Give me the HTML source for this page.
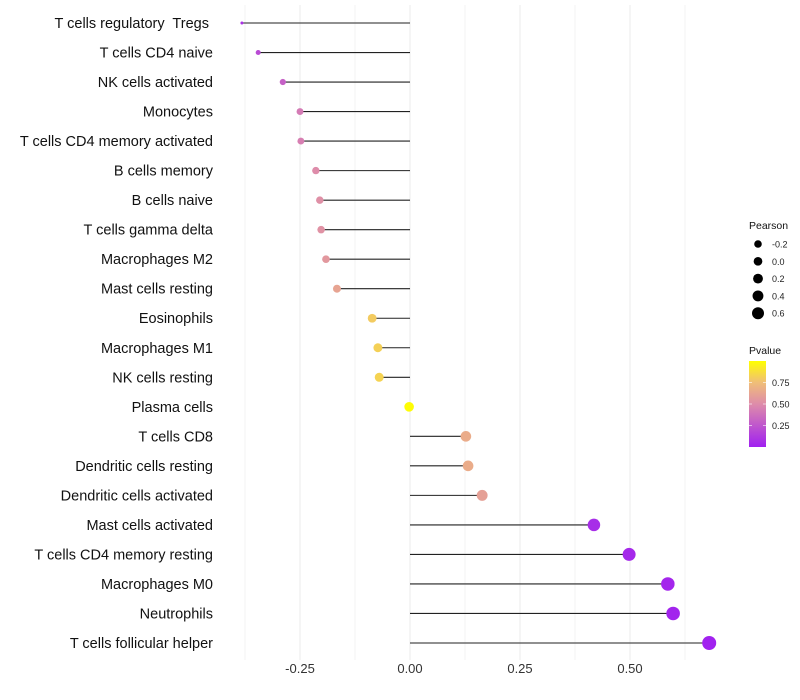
<!DOCTYPE html>
<html><head><meta charset="utf-8"><style>
body{margin:0;background:#fff;font-family:"Liberation Sans",Arial,sans-serif}
svg{display:block}
</style></head><body>
<svg id="chart" width="800" height="700"></svg>
<script>
const categories=["T cells regulatory  Tregs ","T cells CD4 naive","NK cells activated","Monocytes","T cells CD4 memory activated","B cells memory","B cells naive","T cells gamma delta","Macrophages M2","Mast cells resting","Eosinophils","Macrophages M1","NK cells resting","Plasma cells","T cells CD8","Dendritic cells resting","Dendritic cells activated","Mast cells activated","T cells CD4 memory resting","Macrophages M0","Neutrophils","T cells follicular helper"];
const pearson=[-0.382,-0.345,-0.289,-0.25,-0.248,-0.214,-0.205,-0.202,-0.191,-0.166,-0.086,-0.073,-0.07,-0.002,0.127,0.132,0.164,0.418,0.498,0.586,0.598,0.68];
const pvalue=[0.08,0.2,0.3,0.42,0.44,0.5,0.52,0.53,0.56,0.62,0.8,0.82,0.83,0.99,0.66,0.66,0.6,0.06,0.04,0.03,0.02,0.01];
const xTicks=[-0.25,0,0.25,0.5];
const xTickLabels=["-0.25","0.00","0.25","0.50"];
const legendPearson=[-0.2,0,0.2,0.4,0.6];
const legendP=[0.25,0.5,0.75];

const NS="http://www.w3.org/2000/svg";
const svg=document.getElementById('chart');
function mk(t,a,p){const e=document.createElementNS(NS,t);for(const k in a)e.setAttribute(k,a[k]);(p||svg).appendChild(e);return e;}
const x=v=>410+v*440;
const y=i=>23+i*(620/21);
const pmin=Math.min(...pearson),pmax=Math.max(...pearson);
const r=v=>{const t=Math.max(0,Math.min(1,(v-pmin)/(pmax-pmin)));return 1.5+5.5*Math.sqrt(t);};
function col(p){
  const stops=[[0,[160,32,240]],[0.5,[222,140,170]],[0.75,[240,190,120]],[1,[255,255,0]]];
  for(let i=1;i<stops.length;i++){if(p<=stops[i][0]){const [a,ca]=stops[i-1],[b,cb]=stops[i];const t=(p-a)/(b-a);return 'rgb('+ca.map((c,j)=>Math.round(c+(cb[j]-c)*t)).join(',')+')';}}
  return 'rgb(255,255,0)';
}
for(let v=-0.375;v<=0.63;v+=0.125){
  const g=mk('line',{x1:x(v),x2:x(v),y1:5,y2:660,stroke:'#ebebeb','stroke-width':Math.abs((v/0.25)%1)<1e-6?1:0.6});
  
}
xTicks.forEach((v,i)=>{
  const t=mk('text',{x:x(v),y:673,'text-anchor':'middle','font-size':13,fill:'#333'});t.textContent=xTickLabels[i];
  
});
categories.forEach((c,i)=>{
  const t=mk('text',{x:213,y:y(i)+5,'text-anchor':'end','font-size':14.5,fill:'#111','xml:space':'preserve'});
  t.style.whiteSpace='pre';t.textContent=c;
  
  const l=mk('line',{x1:x(pearson[i]),x2:x(0),y1:y(i),y2:y(i),stroke:'#222','stroke-width':1.1});
  
  const d=mk('circle',{cx:x(pearson[i]),cy:y(i),r:r(pearson[i]),fill:col(pvalue[i])});
  
});
const lt=mk('text',{x:749,y:229,'font-size':10.5,fill:'#111'});lt.textContent='Pearson';

legendPearson.forEach((v,i)=>{
  const cy=244+i*17.3;
  const c=mk('circle',{cx:758,cy:cy,r:3.8+i*0.55,fill:'#000'});
  
  const t=mk('text',{x:772,y:cy+3.5,'font-size':9,fill:'#222'});t.textContent=v.toFixed(1);
  
});
const pt=mk('text',{x:749,y:354,'font-size':10.5,fill:'#111'});pt.textContent='Pvalue';

const defs=mk('defs',{});const lg=mk('linearGradient',{id:'pg',x1:0,y1:1,x2:0,y2:0},defs);
[0,0.25,0.5,0.75,1].forEach(o=>mk('stop',{offset:o,'stop-color':col(o)},lg));
const bar=mk('rect',{x:749,y:361,width:17,height:86,fill:'url(#pg)'});

legendP.forEach(v=>{
  const cy=447-v*86;
  mk('line',{x1:749,x2:752,y1:cy,y2:cy,stroke:'#fff','stroke-width':0.6});
  mk('line',{x1:763,x2:766,y1:cy,y2:cy,stroke:'#fff','stroke-width':0.6});
  const t=mk('text',{x:772,y:cy+3.5,'font-size':9,fill:'#222'});t.textContent=v.toFixed(2);
  
});
</script>
</body></html>
